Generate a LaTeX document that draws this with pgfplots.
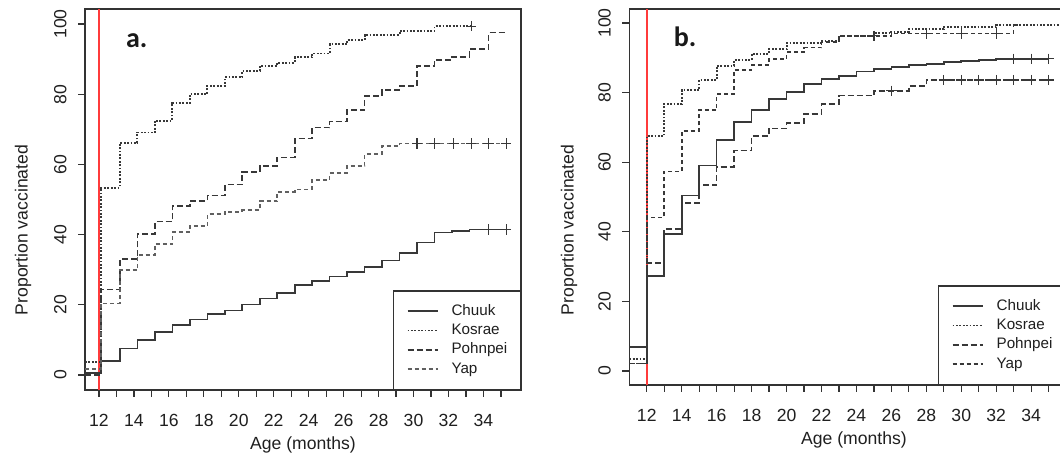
\documentclass[border=0pt]{standalone}
\usepackage{pgfplots}
\pgfplotsset{compat=1.18}
\usepackage{fontspec}
\setmainfont{Liberation Sans}
\newfontfamily\calib{Carlito}
\definecolor{ink}{HTML}{333333}
\definecolor{linec}{HTML}{383838}
\definecolor{yapgray}{HTML}{606060}
\definecolor{redline}{HTML}{FF3B3B}
\newcommand{\labfont}{\fontsize{8.8}{10}\selectfont}
\pgfplotsset{
  hline legend/.style={legend image code/.code={\draw[##1] (0pt,0pt) -- (15pt,0pt);}},
  myaxis/.style={
    scale only axis,
    axis line style={ink, line width=0.7pt},
    tick pos=left,
    tick align=outside,
    major tick length=3.5pt, minor tick length=3.5pt,
    every tick/.style={ink, line width=0.6pt},
    xtick={12,14,...,34},
    minor xtick={13,15,...,35},
    ytick={0,20,...,100},
    xticklabel style={font=\labfont, text=black!88, anchor=north, inner sep=0pt, yshift=-8.5pt},
    yticklabel style={font=\labfont, text=black!88, inner sep=0pt},
    yticklabel style={rotate=90, anchor=south},
    yticklabel shift=5.5pt,
    /pgf/number format/assume math mode=true,
    legend style={at={(1,0)}, anchor=south east, draw=ink, line width=0.7pt, fill=white,
      inner xsep=6.5pt, inner ysep=6.4pt, row sep=2.5pt,
      font=\fontsize{7.6}{8.5}\selectfont, text=black!88,
      nodes={inner sep=0pt},
      /tikz/every odd column/.append style={column sep=6.5pt},
      /tikz/every even column/.append style={nodes={text height=5.6pt, text depth=1.6pt}},
    },
    legend cell align=left,
  },
  chuuk/.style={const plot, hline legend, linec, line width=0.8pt, mark=none},
  kosrae/.style={const plot, hline legend, linec, line width=0.95pt, dash pattern=on 0.9pt off 0.8pt, mark=none},
  pohnpei/.style={const plot, hline legend, linec, line width=0.8pt, dash pattern=on 3pt off 1.5pt, mark=none},
  yap/.style={const plot, hline legend, #1, line width=0.8pt, dash pattern=on 2pt off 1.5pt, mark=none},
  censor/.style={only marks, mark=+, mark size=2.6pt, linec, mark options={line width=0.6pt, solid}, forget plot},
}
\begin{document}
\begin{tikzpicture}
\useasboundingbox (0,0) rectangle (530pt,230pt);
% ---------------- panel a ----------------
\begin{axis}[myaxis, at={(42.5pt,35pt)}, anchor=south west,
  width=218pt, height=190.5pt,
  xmin=11.2, xmax=36.15, ymin=-4.3, ymax=104.3,
]
\addplot[redline, line width=0.8pt, forget plot] coordinates {(12,-4.3) (12,104.3)};
\addplot[chuuk] coordinates {(11.2,0.6) (12.1,4.0) (13.2,7.5) (14.2,9.9) (15.2,12.3) (16.2,14.3) (17.2,15.8) (18.2,17.3) (19.2,18.4) (20.2,20.1) (21.2,21.8) (22.2,23.4) (23.2,25.6) (24.2,26.8) (25.2,28.0) (26.2,29.3) (27.2,30.8) (28.2,32.6) (29.2,34.8) (30.2,37.7) (31.2,40.6) (32.2,41.1) (33.2,41.5) (35.3,41.5)};
\addlegendentry{Chuuk}
\addplot[kosrae] coordinates {(11.2,3.6) (12.1,53.4) (13.2,66.2) (14.2,69.1) (15.2,72.5) (16.2,77.6) (17.2,80.1) (18.2,82.3) (19.2,84.8) (20.2,86.6) (21.2,88.1) (22.2,89.0) (23.2,90.5) (24.2,91.6) (25.2,94.2) (26.2,95.4) (27.2,96.9) (29.2,98.0) (31.2,99.4) (33.3,99.4)};
\addlegendentry{Kosrae}
\addplot[pohnpei] coordinates {(11.2,0) (12.1,24.4) (13.2,33.0) (14.2,40.1) (15.2,43.7) (16.2,48.1) (17.2,49.6) (18.2,51.1) (19.2,54.3) (20.2,57.9) (21.2,59.6) (22.2,62.0) (23.2,67.4) (24.2,70.5) (25.2,72.2) (26.2,75.5) (27.2,79.5) (28.2,81.2) (29.2,82.3) (30.2,88.1) (31.2,89.7) (32.2,90.7) (33.2,92.9) (34.3,97.6) (35.3,97.6)};
\addlegendentry{Pohnpei}
\addplot[yap=yapgray] coordinates {(11.2,1.6) (12.1,20.4) (13.2,29.9) (14.2,34.2) (15.2,37.3) (16.2,40.7) (17.2,42.5) (18.2,45.9) (19.2,46.5) (20.2,47.0) (21.2,49.6) (22.2,52.2) (23.2,52.8) (24.2,55.5) (25.2,57.5) (26.2,59.6) (27.2,62.9) (28.2,65.3) (29.2,66.0) (35.3,66.0)};
\addlegendentry{Yap}
\addplot[censor] coordinates {(34.3,41.5) (35.3,41.5) (33.3,99.4) (30.2,66.0) (31.2,66.0) (32.3,66.0) (33.3,66.0) (34.3,66.0) (35.3,66.0)};
\node[anchor=base west, font=\calib\bfseries\fontsize{14}{16}\selectfont, text=black!90] at (axis description cs:0.078,0.898) {a.};
\end{axis}
% ---------------- panel b ----------------
\begin{axis}[myaxis, at={(314.65pt,37.5pt)}, anchor=south west,
  width=218.4pt, height=188pt,
  xmin=11, xmax=36, ymin=-4, ymax=104,
]
\addplot[redline, line width=0.8pt, forget plot] coordinates {(12,-4) (12,104)};
\addplot[chuuk] coordinates {(11,7.0) (12,27.3) (13,39.3) (14,50.4) (15,59.0) (16,66.4) (17,71.5) (18,75.0) (19,78.1) (20,80.1) (21,82.4) (22,83.9) (23,84.8) (24,86.0) (25,86.8) (26,87.4) (27,87.9) (28,88.2) (29,88.7) (30,89.1) (31,89.4) (32,89.7) (35,89.7)};
\addlegendentry{Chuuk}
\addplot[kosrae] coordinates {(11,3.5) (12,67.5) (13,76.7) (14,80.7) (15,83.6) (16,87.7) (17,89.4) (18,91.1) (19,92.4) (20,94.2) (22,94.9) (23,96.3) (25,97.0) (26,97.5) (27,98.2) (29,98.8) (32,99.4) (36,99.4)};
\addlegendentry{Kosrae}
\addplot[pohnpei] coordinates {(11,2.2) (12,31.0) (13,40.8) (14,48.2) (15,53.4) (16,58.7) (17,63.3) (18,67.5) (19,69.7) (20,71.2) (21,73.9) (22,76.7) (23,79.1) (25,80.5) (27,81.9) (28,83.6) (35,83.6)};
\addlegendentry{Pohnpei}
\addplot[yap=linec] coordinates {(11,2.2) (12,44.1) (13,57.3) (14,69.0) (15,75.0) (16,79.5) (17,86.5) (18,87.9) (19,89.6) (20,91.6) (21,92.9) (22,94.6) (23,96.3) (26,97.0) (33,99.4) (33.3,99.4)};
\addlegendentry{Yap}
\addplot[censor] coordinates {(33,89.7) (34,89.7) (35,89.7) (26,80.5) (29,83.6) (30,83.6) (31,83.6) (32,83.6) (33,83.6) (34,83.6) (35,83.6) (25,96.3) (28,97.0) (30,97.0) (32,97.0)};
\node[anchor=base west, font=\calib\bfseries\fontsize{14}{16}\selectfont, text=black!90] at (axis description cs:0.086,0.899) {b.};
\end{axis}
% axis titles placed in picture coordinates (1 px = 0.5 pt)
\node[font=\labfont, text=black!88] at (151.5pt,7.5pt) {Age (months)};
\node[font=\labfont, text=black!88, rotate=90] at (11.5pt,115pt) {Proportion vaccinated};
\node[font=\labfont, text=black!88] at (427pt,10pt) {Age (months)};
\node[font=\labfont, text=black!88, rotate=90] at (284.5pt,115pt) {Proportion vaccinated};
\end{tikzpicture}
\end{document}
